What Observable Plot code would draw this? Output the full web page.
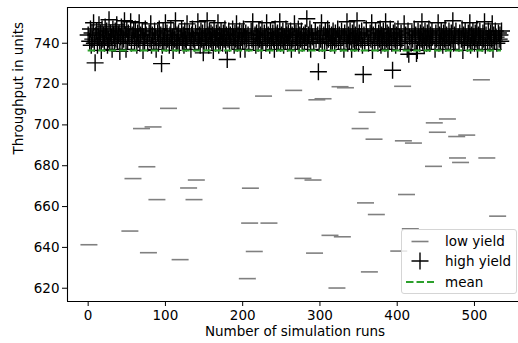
<!DOCTYPE html>
<html><head><meta charset="utf-8">
<script src="https://cdn.jsdelivr.net/npm/d3@7"></script>
<script src="https://cdn.jsdelivr.net/npm/@observablehq/plot@0.6"></script>
<style>
body{margin:0;background:#fff;}
#wrap{position:relative;width:518px;height:343px;font-family:"DejaVu Sans",sans-serif;}
#legend{position:absolute;left:401px;top:229px;width:116px;height:65px;box-sizing:border-box;border:1px solid #d5d5d5;border-radius:3px;background:rgba(255,255,255,0.8);}
#legend svg{position:absolute;left:0;top:0;}
</style></head><body><div id="wrap"></div>
<script>
// throughput per simulation run (index = run number)
const throughput = [
744,641.3,741,747,739,745,742,750,740,730.4,744,746,739,743,749,741,745,736.5,747,742,
744,740,748,743,746,739,742,751.5,741,745,743,737,747,744,740,746,742,749,741,744,
745,736,743,748,740,746,742,751,744,737,747,741,745,743,648,750.5,740,744,673.7,746,
741,747,743,739,745,742,750,740,744,698.2,746,736.5,743,741,747,744,679.5,740,637.4,745,
742,749.5,739,744,699,741,746,743,737,663.4,745,740,747,742,744,730,739,746,741,743,
750,740,745,742,708.1,739,744,747,741,743,736.5,746,742,751,740,744,741,745,739,634,
743,747,741,744,739,746,742,740,749.5,743,669.1,745,741,737,744,747,742,663.4,740,745,
673,743,750.5,741,744,739,746,742,745,735.3,740,747,743,741,751,744,739,746,742,745,
741,744,736.5,747,743,740,745,742,750,739,744,741,746,743,740,745,742,747,739,744,
732,742,746,740,744,708.1,741,747,743,739,745,742,749.5,740,744,741,746,737,743,745,
741,747,743,737,745,742,624.7,744,740,651.9,669,746,742,750.5,741,638,744,739,745,743,
740,746,742,744,736.5,747,741,714.1,745,743,740,750,742,744,651.9,739,746,741,743,745,
742,737,747,744,740,745,741,743,750.5,740,744,742,746,739,743,741,747,744,740,745,
743,741,746,737,744,742,716.9,749.5,740,745,743,741,747,739,744,742,746,740,673.8,744,
741,745,743,752,740,744,742,747,737,745,743,673,741,637.2,746,742,712.3,744,726,740,
745,742,750,740,712.8,744,736.5,746,743,741,747,742,745,645.9,740,744,741,746,743,739,
745,742,620.1,747,741,744,718.7,740,746,645.2,743,737,745,718.2,742,750.5,740,744,741,746,
743,737,745,742,747,740,744,741,751,743,740,745,698.2,742,746,739,724.7,744,741,661.8,
747,706.2,743,740,628,745,742,750,736.5,744,693,741,746,656.1,743,740,745,742,747,739,
744,741,746,743,740,750.5,742,745,737,744,741,747,743,740,726.8,745,742,746,739,744,
741,747,638.2,743,740,745,742,718.9,692.2,749.5,741,744,665.9,737,746,734.6,743,649.1,740,745,
742,691.1,747,741,744,735,736.5,746,743,740,745,742,750.5,741,744,739,746,743,740,745,
742,747,740,744,741,746,743,679.7,701,737,745,742,696.4,750,740,744,741,746,743,739,
745,742,747,740,744,702.9,741,746,743,737,745,742,751,740,744,741,746,694.3,683.8,743,
740,745,681.6,742,747,736.5,744,741,746,743,695,740,745,742,750,739,744,741,746,743,
740,745,742,747,737,744,741,746,743,722.1,740,745,742,750.5,739,744,683.8,741,746,743,
740,745,742,749.5,737,744,741,746,743,740,655.3,745,742,744,741,746
];
const lowYieldLimit = 723.5;      // runs below this are "low yield"
const meanThroughput = 736.4;
const xTicks = [0, 100, 200, 300, 400, 500];
const yTicks = [620, 640, 660, 680, 700, 720, 740];
const xDomain = [-26.75, 557];
const yDomain = [613.5, 757.5];
const xLabel = "Number of simulation runs";
const yLabel = "Throughput in units";
const seriesNames = ["low yield", "high yield", "mean"];

const rows = throughput.map((v, i) => ({run: i, value: v}));
const low = rows.filter(d => d.value < lowYieldLimit);
const high = rows.filter(d => d.value >= lowYieldLimit);
const meanRow = [{y: meanThroughput, x1: rows[0].run, x2: rows[rows.length - 1].run}];

const hbar = {draw(ctx, size) { const r = Math.sqrt(size / Math.PI); ctx.moveTo(-r, 0); ctx.lineTo(r, 0); }};
const plus = {draw(ctx, size) { const r = Math.sqrt(size / Math.PI); ctx.moveTo(-r, 0); ctx.lineTo(r, 0); ctx.moveTo(0, -r); ctx.lineTo(0, r); }};

const chart = Plot.plot({
  width: 518, height: 343,
  marginLeft: 67, marginRight: 0, marginTop: 7, marginBottom: 42,
  style: {fontFamily: "DejaVu Sans", fontSize: "13.5px", background: "white", color: "black"},
  x: {domain: xDomain},
  y: {domain: yDomain},
  marks: [
    Plot.dot(low, {x: "run", y: "value", symbol: hbar, r: 8.5, fill: "none", stroke: "#808080", strokeWidth: 1.6}),
    Plot.dot(high, {x: "run", y: "value", symbol: plus, r: 8.5, fill: "none", stroke: "black", strokeWidth: 1.4}),
    Plot.ruleY(meanRow, {y: "y", x1: "x1", x2: "x2", stroke: "#2ca02c", strokeWidth: 2, strokeDasharray: "7.5,3"}),
    Plot.ruleY([yDomain[0], yDomain[1]], {stroke: "black", strokeWidth: 1.1}),
    Plot.ruleX([xDomain[0]], {stroke: "black", strokeWidth: 1.1}),
    Plot.axisY({ticks: yTicks, tickSize: 5, tickPadding: 3, label: null}),
    Plot.axisX({ticks: xTicks, tickSize: 5, tickPadding: 4, label: null}),
    Plot.text([xLabel], {frameAnchor: "bottom", dx: 2, dy: 34, text: d => d}),
    Plot.text([yLabel], {frameAnchor: "left", dx: -49, rotate: -90, text: d => d})
  ]
});
const wrap = document.getElementById("wrap");
wrap.appendChild(chart);

// legend
const lg = document.createElement("div");
lg.id = "legend";
const ns = "http://www.w3.org/2000/svg";
const svg = document.createElementNS(ns, "svg");
svg.setAttribute("width", 116); svg.setAttribute("height", 65);
const rowsY = [11.5, 31, 52];
svg.innerHTML =
  `<line x1="9.5" x2="26.5" y1="${rowsY[0]}" y2="${rowsY[0]}" stroke="#808080" stroke-width="1.6"/>` +
  `<path d="M9.5,${rowsY[1]}H26.5M18,${rowsY[1]-8.5}V${rowsY[1]+8.5}" stroke="black" stroke-width="1.4" fill="none"/>` +
  `<line x1="4" x2="32" y1="${rowsY[2]}" y2="${rowsY[2]}" stroke="#2ca02c" stroke-width="2" stroke-dasharray="7.5,3"/>` +
  seriesNames.map((s, i) => `<text x="43" y="${rowsY[i]}" dy="0.35em" font-family="DejaVu Sans" font-size="13.5px" fill="black">${s}</text>`).join("");
lg.appendChild(svg);
wrap.appendChild(lg);
</script></body></html>
